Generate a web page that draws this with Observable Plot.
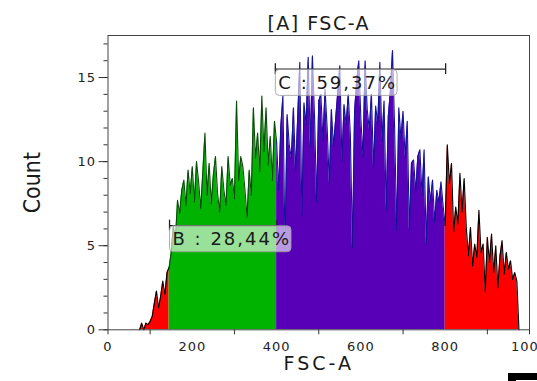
<!DOCTYPE html>
<html><head><meta charset="utf-8">
<script src="https://cdn.jsdelivr.net/npm/d3@7"></script>
<script src="https://cdn.jsdelivr.net/npm/@observablehq/plot@0.6"></script>
<style>
html,body{margin:0;padding:0;background:#fff;overflow:hidden;width:537px;height:381px;}
#chart{position:absolute;left:0;top:0;width:537px;height:381px;}
#corner{position:absolute;left:508px;top:373px;width:40px;height:20px;border-top:7px solid #000;border-left:8px solid #000;box-sizing:border-box;}
</style></head>
<body><div id="chart"></div><div id="corner"></div>
<script>
// ---- data ----
const binStart = 75, binWidth = 5;
const counts = [
  0, 0.4, 0, 0.4, 0.3,
  0.5, 0.8, 1.6, 2.3, 1.3, 2.0, 2.9, 2.1, 3.4, 3.7, 4.6, 6.2, 5.4, 7.7, 6.9, 8.3, 8.9, 7.4, 9.5, 8.1,
  9.7, 7.6, 10.0, 8.8, 7.2, 9.4, 11.7, 8.0, 9.9, 7.5, 9.2, 10.3, 8.1, 7.0, 9.7, 8.3, 7.4, 10.3, 8.6, 9.0,
  7.8, 13.6, 8.9, 10.3, 9.7, 8.3, 6.7, 9.5, 8.0, 13.2, 10.2, 11.7, 9.4, 13.9, 10.6, 13.2, 9.8, 11.5, 8.9, 12.4,
  11.2, 8.3, 12.1, 13.9, 4.8, 12.8, 11.0, 10.2, 13.2, 9.4, 12.6, 15.9, 6.8, 13.5, 12.2, 16.2, 10.9, 16.3, 12.7, 7.6,
  13.6, 14.0, 11.3, 14.3, 12.0, 8.7, 13.1, 10.9, 12.5, 14.1, 15.7, 10.0, 13.4, 12.2, 14.0, 11.6, 4.9, 13.0, 14.8, 16.0,
  12.5, 10.3, 16.0, 13.1, 11.9, 14.0, 9.6, 13.3, 12.2, 15.9, 11.2, 13.6, 7.1, 12.7, 14.2, 16.6, 12.0, 5.9, 13.2, 11.4,
  13.0, 10.2, 12.4, 5.9, 9.9, 10.1, 8.2, 10.3, 10.7, 8.0, 10.7, 5.1, 9.1, 7.6, 8.9, 6.4, 8.3, 7.6, 8.8, 7.4,
  6.2, 11.0, 8.7, 9.9, 5.8, 7.3, 6.3, 9.3, 7.0, 9.0, 6.1, 4.4, 6.1, 3.8, 5.1, 4.3, 7.1, 4.6, 5.1, 2.3,
  5.5, 4.0, 5.7, 3.4, 5.0, 2.5, 4.4, 5.3, 3.3, 4.6, 3.6, 4.1, 3.0, 3.4, 2.9, 0
];
// region boundaries on FSC-A
const regionEdges = [75, 145, 400, 800, 975];
const regionFills = ["#ff0000", "#00b300", "#5800b8", "#ff0000"];
const regionStrokes = ["#000000", "#0a4a0a", "#14149a", "#000000"];
// gates
const gateNames = ["B", "C"];
const gatePct = ["28,44%", "59,37%"];
const gateFrom = [146, 397];
const gateTo = [401, 801];
const gateLevel = [6.2, 15.5];
// ticks
const xTicks = [0, 200, 400, 600, 800, 1000];
const xMinor = [0, 100, 300, 500, 700, 900, 1000];
const yTicks = [0, 5, 10, 15];
const yMinor = [0,1,2,3,4,5,6,7,8,9,10,11,12,13,14,15,16,17];
const titleText = "[A] FSC-A", xLabelText = "FSC-A", yLabelText = "Count";

// ---- build ----
const hist = counts.map((c, i) => ({x: binStart + i * binWidth, y: c}));
const gates = gateNames.map((n, i) => ({name: n, pct: gatePct[i], x1: gateFrom[i], x2: gateTo[i], y: gateLevel[i]}));
const gateEnds = gates.flatMap(g => [{x: g.x1, y: g.y}, {x: g.x2, y: g.y}]);
const gateText = d => `${d.name} : ${d.pct}`;

const marks = [];
for (let k = 0; k < regionFills.length; k++) {
  const d = hist.filter(p => p.x >= regionEdges[k] && p.x <= regionEdges[k + 1]);
  marks.push(Plot.areaY(d, {x: "x", y: "y", fill: regionFills[k]}));
}
for (let k = 0; k < regionFills.length; k++) {
  const d = hist.filter(p => p.x >= regionEdges[k] && p.x <= regionEdges[k + 1]);
  marks.push(Plot.lineY(d, {x: "x", y: "y", stroke: regionStrokes[k], strokeWidth: 1.1}));
}
marks.push(
  Plot.frame({stroke: "#444"}),
  Plot.axisY({ticks: yMinor, tickSize: 4, tickFormat: () => "", label: null, stroke: "#333"}),
  Plot.axisY({ticks: yTicks, tickSize: 9, tickPadding: 3, tickFormat: d => String(d), label: null, fontSize: 13, stroke: "#333", fill: "#222"}),
  Plot.axisX({ticks: xMinor, tickSize: 5, tickFormat: () => "", label: null, stroke: "#333"}),
  Plot.axisX({ticks: xTicks, tickSize: 0, tickPadding: 12, tickFormat: d => String(d), label: null, fontSize: 13, fill: "#222"}),
  Plot.ruleY(gates, {x1: "x1", x2: "x2", y: "y", stroke: "#222", strokeWidth: 1.3}),
  Plot.ruleX(gateEnds, {x: "x", y1: d => d.y - 0.32, y2: d => d.y + 0.32, stroke: "#222", strokeWidth: 1.3}),
  Plot.text(gates, {x: "x1", y: "y", text: gateText, textAnchor: "start", lineAnchor: "middle", dx: 3, dy: 14, fontSize: 18, fill: "#1a1a1a"}),
  Plot.text([titleText], {frameAnchor: "top", lineAnchor: "middle", dy: -12, fontSize: 19, fill: "#1a1a1a"}),
  Plot.text([xLabelText], {frameAnchor: "bottom", lineAnchor: "middle", dy: 34, fontSize: 19, fill: "#1a1a1a"}),
  Plot.text([yLabelText], {frameAnchor: "left", dx: -75.5, rotate: -90, textAnchor: "middle", lineAnchor: "middle", fontSize: 23, fontFamily: "'Liberation Sans Narrow', 'DejaVu Sans Condensed', sans-serif", fill: "#1a1a1a"})
);

const chart = Plot.plot({
  width: 537, height: 381,
  marginLeft: 107.5, marginRight: 8, marginTop: 35, marginBottom: 51.7,
  x: {domain: [0, 1000]},
  y: {domain: [0, 17.5]},
  style: {fontFamily: "'DejaVu Sans', sans-serif", fontSize: "13px", background: "white", color: "#222"},
  marks
});
document.getElementById("chart").appendChild(chart);

// letter spacing and label boxes (post-render styling)
const gateStrings = new Set(gates.map(gateText));
chart.querySelectorAll("text").forEach(t => {
  const s = t.textContent;
  if (gateStrings.has(s)) t.style.letterSpacing = "2px";
  else if (s === titleText) t.style.letterSpacing = "1.5px";
  else if (s === xLabelText) t.style.letterSpacing = "3px";
  else if (/^\d+$/.test(s)) t.style.letterSpacing = "1px";
});
chart.querySelectorAll("text").forEach(t => {
  if (!gateStrings.has(t.textContent)) return;
  const b = t.getBBox();
  const cy = b.y + b.height / 2;
  const r = document.createElementNS("http://www.w3.org/2000/svg", "rect");
  r.setAttribute("x", b.x - 3);
  r.setAttribute("y", cy - 13);
  r.setAttribute("width", b.width + 3);
  r.setAttribute("height", 26);
  r.setAttribute("rx", 4);
  r.setAttribute("fill", "white");
  r.setAttribute("fill-opacity", 0.6);
  r.setAttribute("stroke", "#999");
  r.setAttribute("stroke-opacity", 0.8);
  if (t.getAttribute("transform")) r.setAttribute("transform", t.getAttribute("transform"));
  t.parentNode.insertBefore(r, t);
});
</script>
</body></html>
